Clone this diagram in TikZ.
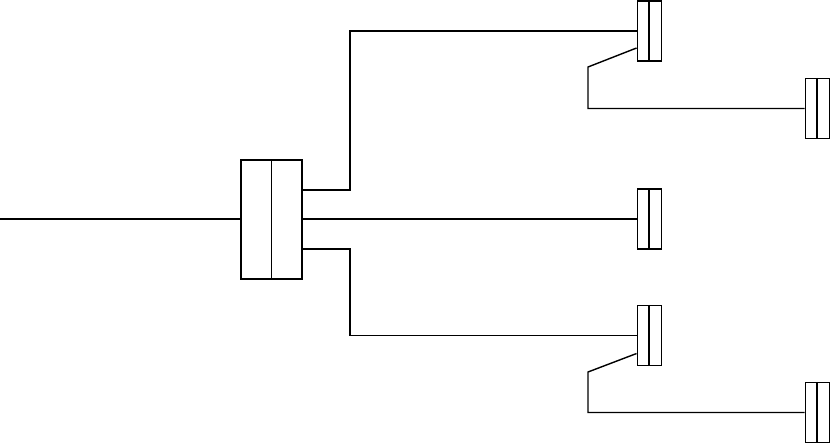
\documentclass[tikz,border=0pt]{standalone}
\begin{document}
\begin{tikzpicture}[x=1pt,y=-1pt,line width=1.4pt,
  bigbox/.style={draw,rectangle,inner sep=0pt,minimum width=61pt,minimum height=119pt},
  smallbox/.style={draw,rectangle,inner sep=0pt,minimum width=24.5pt,minimum height=60pt},
  wire/.style={draw,line join=miter}]
\useasboundingbox (0,0) rectangle (830,444);
\node[bigbox] (M) at (271.5,219.5) {};
\draw (M.north) -- (M.south);
\node[smallbox] (A) at (649.5,31) {};
\node[smallbox] (B) at (817.5,108.5) {};
\node[smallbox] (C) at (649.5,219) {};
\node[smallbox] (D) at (649.5,335.5) {};
\node[smallbox] (E) at (817.5,412.5) {};
\foreach \n in {A,B,C,D,E}{\draw ([xshift=-0.5pt]\n.north) -- ([xshift=-0.5pt]\n.south);}
\coordinate (in) at (0,219);
\coordinate (jt) at (350,190);
\coordinate (jb) at (350,249);
\coordinate (ka) at (588,67);
\coordinate (kd) at (588,372);
\draw[wire] (in) -- (M.west |- in);
\draw[wire] (M.east |- jt) -- (jt) -- (jt |- A.west) -- (A.west);
\draw[wire] (M.east |- C.west) -- (C.west);
\draw[wire] (M.east |- jb) -- (jb) -- (jb |- D.west) -- (D.west);
\draw[wire] ([yshift=-17pt]A.west) -- (ka) -- (ka |- B.west) -- (B.west);
\draw[wire] ([yshift=-18pt]D.west) -- (kd) -- (kd |- E.west) -- (E.west);
\end{tikzpicture}
\end{document}
